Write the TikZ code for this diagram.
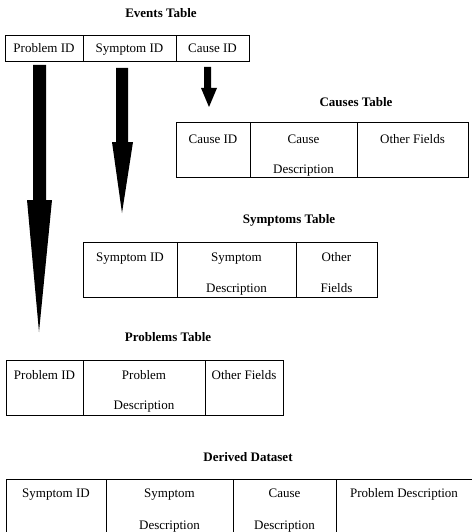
\documentclass[tikz,border=0pt]{standalone}
\usepackage{fontspec}
\setmainfont{Liberation Serif}
\begin{document}
\begin{tikzpicture}[x=1pt,y=-1pt,
  every node/.style={font=\fontsize{13}{15}\selectfont},
  title/.style={font=\fontsize{13}{15}\selectfont\bfseries, anchor=base},
  cell/.style={draw, line width=0.9pt, inner sep=0pt, anchor=north west},
  txt/.style={inner sep=0pt, anchor=base},
  rule/.style={line width=0.9pt},
  bigarrow/.style={fill=black, draw=none}]
\useasboundingbox (0,0) rectangle (475,532);
\clip (0,0) rectangle (475,532);

% ---- Events table ----
\node[title] (evt) at (161,18) {Events Table};
\node[cell, minimum width=78pt, minimum height=26pt] (e1) at (5,35) {};
\node[cell, minimum width=93pt, minimum height=26pt] (e2) at (83,35) {};
\node[cell, minimum width=73pt, minimum height=26pt] (e3) at (176,35) {};
\node[txt] at (44,52.5) {Problem ID};
\node[txt] at (129.5,52.5) {Symptom ID};
\node[txt] at (212.5,52.5) {Cause ID};

% ---- arrows ----
\fill[bigarrow] (33,65) -- (46,65) -- (46,200) -- (52,200) -- (39,332) -- (27,200) -- (33,200) -- cycle;
\fill[bigarrow] (116,68) -- (128,68) -- (128,142) -- (133,142) -- (122,213) -- (112,142) -- (116,142) -- cycle;
\fill[bigarrow] (204,67) -- (211,67) -- (211,88) -- (217,88) -- (209,107) -- (201,88) -- (204,88) -- cycle;

% ---- Causes table ----
\node[title] (ct) at (356,106.5) {Causes Table};
\node[cell, minimum width=74pt, minimum height=55pt] (c1) at (176,122) {};
\node[cell, minimum width=107pt, minimum height=55pt] (c2) at (250,122) {};
\node[cell, minimum width=111pt, minimum height=55pt] (c3) at (357,122) {};
\node[txt] at (213,143.5) {Cause ID};
\node[txt] at (303.5,143.5) {Cause};
\node[txt] at (303.5,173.5) {Description};
\node[txt] at (412.5,143.5) {Other Fields};

% ---- Symptoms table ----
\node[title] (st) at (289,223.5) {Symptoms Table};
\node[cell, minimum width=94pt, minimum height=55pt] (s1) at (83,242) {};
\node[cell, minimum width=119pt, minimum height=55pt] (s2) at (177,242) {};
\node[cell, minimum width=81pt, minimum height=55pt] (s3) at (296,242) {};
\node[txt] at (130,261.5) {Symptom ID};
\node[txt] at (236.5,261.5) {Symptom};
\node[txt] at (236.5,292.5) {Description};
\node[txt] at (336.5,261.5) {Other};
\node[txt] at (336.5,292.5) {Fields};

% ---- Problems table ----
\node[title] (pt) at (168,341.5) {Problems Table};
\node[cell, minimum width=77pt, minimum height=55pt] (p1) at (6,360) {};
\node[cell, minimum width=122pt, minimum height=55pt] (p2) at (83,360) {};
\node[cell, minimum width=78pt, minimum height=55pt] (p3) at (205,360) {};
\node[txt] at (44.5,379.5) {Problem ID};
\node[txt] at (144,379.5) {Problem};
\node[txt] at (144,409.5) {Description};
\node[txt] at (244,379.5) {Other Fields};

% ---- Derived dataset ----
\node[title] (dt) at (248,461.5) {Derived Dataset};
\coordinate (dtl) at (6,479);
\coordinate (dtr) at (472,479);
\draw[rule] (6,545) -- (dtl) -- (dtr);
\draw[rule] (106,479) -- (106,545);
\draw[rule] (233,479) -- (233,545);
\draw[rule] (336,479) -- (336,545);
\node[txt] at (56,497.5) {Symptom ID};
\node[txt] at (169.5,497.5) {Symptom};
\node[txt] at (169.5,529) {Description};
\node[txt] at (284.5,497.5) {Cause};
\node[txt] at (284.5,529) {Description};
\node[txt] at (404,497.5) {Problem Description};
\end{tikzpicture}
\end{document}
